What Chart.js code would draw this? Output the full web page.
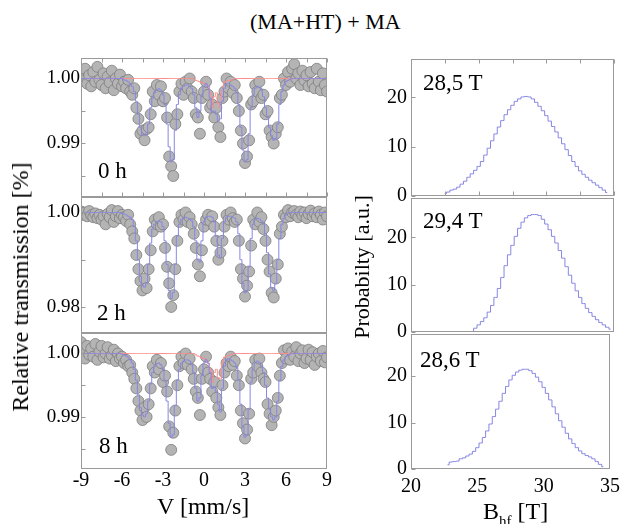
<!DOCTYPE html>
<html><head><meta charset="utf-8">
<script src="https://cdn.jsdelivr.net/npm/chart.js@4.4.1/dist/chart.umd.min.js"></script>
<style>
html,body{margin:0;padding:0;background:#fff;}
#wrap{position:relative;width:626px;height:524px;overflow:hidden;background:#fff;font-family:"Liberation Serif","DejaVu Serif","Noto Serif",Tinos,serif;color:#000;}
canvas{position:absolute;}
.t{position:absolute;white-space:nowrap;line-height:1;}
</style></head><body>
<div id="wrap">
  <div class="t" style="left:250px;top:11px;font-size:22px">(MA+HT) + MA</div>
  <div class="t" style="left:20px;top:287px;font-size:24px;transform:translate(-50%,-50%) rotate(-90deg)">Relative transmission [%]</div>
  <div class="t" style="left:362px;top:267px;font-size:22px;transform:translate(-50%,-50%) rotate(-90deg)">Probabilty [a.u.]</div>
  <div class="t" style="left:157px;top:494px;font-size:24px">V [mm/s]</div>
  <div class="t" style="left:483px;top:499px;font-size:24px">B<span style="font-size:15px;position:relative;top:7px">hf</span> [T]</div>
  <div class="t" style="left:98px;top:159px;font-size:23px">0 h</div>
  <div class="t" style="left:97px;top:301px;font-size:23px">2 h</div>
  <div class="t" style="left:99px;top:434px;font-size:23px">8 h</div>
  <div class="t" style="left:423px;top:71px;font-size:23px">28,5 T</div>
  <div class="t" style="left:423px;top:209px;font-size:23px">29,4 T</div>
  <div class="t" style="left:420px;top:348px;font-size:23px">28,6 T</div>
</div>
<script>
// ---------- DATA ----------
const velocity = [
 -9,-8.85,-8.7,-8.55,-8.4,-8.25,-8.1,-7.95,-7.8,-7.65,
 -7.5,-7.35,-7.2,-7.05,-6.9,-6.75,-6.6,-6.45,-6.3,-6.15,
 -6,-5.85,-5.7,-5.55,-5.4,-5.25,-5.1,-4.95,-4.8,-4.65,
 -4.5,-4.35,-4.2,-4.05,-3.9,-3.75,-3.6,-3.45,-3.3,-3.15,
 -3,-2.85,-2.7,-2.55,-2.4,-2.25,-2.1,-1.95,-1.8,-1.65,
 -1.5,-1.35,-1.2,-1.05,-0.9,-0.75,-0.6,-0.45,-0.3,-0.15,
 0,0.15,0.3,0.45,0.6,0.75,0.9,1.05,1.2,1.35,
 1.5,1.65,1.8,1.95,2.1,2.25,2.4,2.55,2.7,2.85,
 3,3.15,3.3,3.45,3.6,3.75,3.9,4.05,4.2,4.35,
 4.5,4.65,4.8,4.95,5.1,5.25,5.4,5.55,5.7,5.85,
 6,6.15,6.3,6.45,6.6,6.75,6.9,7.05,7.2,7.35,
 7.5,7.65,7.8,7.95,8.1,8.25,8.4,8.55,8.7,8.85,
 9];

// 0 h
const data0h = [
 1.0012,0.9997,1.0015,0.9992,1.0005,0.9988,1.001,0.9995,1.0018,0.9998,
 0.999,1.0008,0.9985,1.0003,0.9994,1.0012,0.9982,1,0.9992,1.0006,
 0.9988,0.9995,0.9985,0.9998,0.998,0.9975,0.9985,0.9955,0.9938,0.9915,
 0.992,0.9905,0.9922,0.9925,0.9945,0.998,0.9965,0.999,0.9975,0.9988,
 0.9965,0.997,0.994,0.988,0.9865,0.985,0.993,0.9945,0.998,0.9992,
 0.9975,0.9995,0.9985,1,0.998,0.997,0.9945,0.994,0.9915,0.997,
 0.998,0.9995,0.9975,0.9955,0.996,0.994,0.9955,0.9925,0.991,0.997,
 0.998,1,0.9985,0.9995,0.9978,0.999,0.997,0.995,0.992,0.99,
 0.987,0.988,0.9905,0.996,0.9965,0.999,0.998,0.9995,0.997,0.9975,
 0.9945,0.995,0.992,0.991,0.99,0.9915,0.9925,0.997,0.9975,1,
 0.999,1.001,0.9995,1.0015,1.0022,1,1.0008,0.999,1.0012,0.9997,
 1.0005,0.9988,1.001,0.9992,0.9985,1.0015,0.9995,0.9982,1.0008,0.999,
 0.998];
const fit0h = [
 1,1,1,1,1,1,1,1,1,1,
 1,1,1,1,1,1,1,1,1,1,
 1,0.9998,0.9997,0.9995,0.9992,0.9988,0.998,0.9965,0.9945,0.9925,
 0.9914,0.9912,0.9915,0.993,0.9955,0.997,0.9978,0.9983,0.9984,0.9982,
 0.9975,0.996,0.993,0.9895,0.9872,0.9875,0.992,0.996,0.9975,0.9985,
 0.9988,0.999,0.999,0.9988,0.9985,0.9975,0.9955,0.994,0.995,0.9975,
 0.9988,0.9992,0.9988,0.997,0.9948,0.995,0.9945,0.9935,0.9938,0.9965,
 0.9985,0.9992,0.9992,0.999,0.9988,0.9985,0.9978,0.996,0.9925,0.989,
 0.9872,0.9875,0.9915,0.9955,0.9975,0.9985,0.9988,0.9986,0.9982,0.9972,
 0.9955,0.994,0.9925,0.9912,0.9905,0.9908,0.993,0.996,0.998,0.999,
 0.9995,0.9997,0.9999,1,1,1,1,1,1,1,
 1,1,1,1,1,1,1,1,1,1,
 1];
const doublet0h = [
 1,1,1,1,1,1,1,1,1,1,
 1,1,1,1,1,1,1,1,1,1,
 1,1,1,1,1,1,1,1,1,1,
 1,1,1,1,1,1,1,1,1,1,
 1,1,1,1,1,1,1,1,1,1,
 1,1,1,1,1,1,0.9997,0.9996,0.9995,0.9994,
 0.9993,0.9992,0.9988,0.9978,0.9955,0.9972,0.9978,0.9962,0.9955,0.9982,
 0.9994,0.9996,0.9997,0.9997,0.9998,1,1,1,1,1,
 1,1,1,1,1,1,1,1,1,1,
 1,1,1,1,1,1,1,1,1,1,
 1,1,1,1,1,1,1,1,1,1,
 1,1,1,1,1,1,1,1,1,1,
 1];

// 2 h
const data2h = [
 1.0002,0.9995,1,0.9992,1.0003,0.9994,0.999,0.9998,0.9988,0.9995,
 0.9985,0.9992,0.9975,0.9997,0.999,1.0005,0.998,0.9992,1.0003,0.9988,
 0.9995,0.999,0.9982,0.9995,0.9975,0.996,0.9945,0.991,0.988,0.9855,
 0.9835,0.986,0.984,0.988,0.992,0.996,0.9985,0.9975,0.999,0.997,
 0.9975,0.9925,0.9885,0.985,0.98,0.9825,0.988,0.994,0.998,0.9995,
 0.9985,1,0.998,0.999,0.9975,0.9955,0.9925,0.989,0.9865,0.992,
 0.997,0.9985,0.9995,0.9982,0.9992,0.997,0.994,0.99,0.9915,0.994,
 0.997,0.9995,0.9985,1,0.9988,0.998,0.9985,0.994,0.988,0.986,
 0.9822,0.9845,0.9875,0.993,0.9985,0.9975,1,0.998,0.999,0.9965,
 0.994,0.99,0.9875,0.983,0.982,0.986,0.989,0.9955,0.997,0.9995,
 0.999,1.0005,0.9992,1,1.0003,0.9995,0.999,1.0002,0.9994,1,
 0.9988,0.9997,1.0004,0.9992,0.9998,0.999,1.0002,0.9995,0.9985,1,
 0.9992];
const fit2h = [
 1,1,1,1,1,1,1,1,1,1,
 1,1,1,1,1,1,1,1,1,1,
 0.9998,0.9997,0.9995,0.9992,0.999,0.9985,0.997,0.994,0.99,0.9865,
 0.9845,0.9842,0.985,0.989,0.9935,0.9965,0.9975,0.998,0.9982,0.998,
 0.997,0.994,0.989,0.9835,0.9818,0.983,0.989,0.995,0.9975,0.9985,
 0.9988,0.999,0.9988,0.9986,0.9982,0.997,0.994,0.99,0.9895,0.994,
 0.998,0.999,0.9992,0.9992,0.999,0.998,0.995,0.991,0.9905,0.9945,
 0.998,0.999,0.9992,0.9992,0.999,0.9988,0.998,0.9955,0.99,0.985,
 0.983,0.9835,0.9885,0.9945,0.9975,0.9985,0.9988,0.9986,0.9982,0.9975,
 0.9955,0.9915,0.987,0.984,0.9835,0.985,0.99,0.9945,0.9975,0.9988,
 0.9995,0.9998,1,1,1,1,1,1,1,1,
 1,1,1,1,1,1,1,1,1,1,
 1];

// 8 h
const data8h = [
 1.0018,1.0005,0.9992,1.0012,0.9998,1.0008,0.9995,1.0015,0.999,1.0003,
 1.0012,0.9994,1,1.001,0.9992,0.9997,1.0006,0.9988,1,0.9992,
 0.9995,0.9985,0.999,0.998,0.9982,0.997,0.996,0.9945,0.9925,0.991,
 0.9895,0.9915,0.99,0.992,0.9945,0.998,0.997,0.999,0.9975,0.9985,
 0.9955,0.9965,0.994,0.9885,0.9848,0.9875,0.991,0.995,0.998,0.9995,
 0.9985,1,0.9982,0.9992,0.9975,0.996,0.994,0.993,0.9903,0.996,
 0.9975,0.9995,0.997,0.996,0.994,0.9955,0.993,0.9915,0.9903,0.995,
 0.997,0.9985,0.998,0.9995,0.9982,0.9988,0.9965,0.995,0.991,0.989,
 0.9866,0.988,0.9905,0.996,0.997,0.999,0.998,0.9992,0.997,0.996,
 0.9955,0.992,0.9905,0.9887,0.99,0.991,0.993,0.9965,0.9985,1.0005,
 0.9992,1.0008,0.999,1.0003,0.9995,1.001,0.9988,1,1.0005,0.9985,
 0.9992,1.0006,0.999,1.0002,0.9982,0.9995,1,0.9988,1.0004,0.9986,
 0.9994];
const fit8h = [
 1,1,1,1,1,1,1,1,1,1,
 1,1,1,1,1,1,1,1,1,1,
 0.9999,0.9998,0.9996,0.9994,0.999,0.9985,0.9975,0.9958,0.9935,0.9915,
 0.9903,0.99,0.9905,0.9925,0.9952,0.997,0.998,0.9984,0.9985,0.9982,
 0.9975,0.9958,0.9925,0.989,0.9868,0.9872,0.9918,0.9958,0.9975,0.9985,
 0.9988,0.999,0.999,0.9988,0.9982,0.997,0.9945,0.9925,0.993,0.9965,
 0.9985,0.999,0.9985,0.997,0.9945,0.9948,0.994,0.992,0.9908,0.9945,
 0.998,0.999,0.9992,0.999,0.9988,0.9985,0.9978,0.9958,0.992,0.9885,
 0.9868,0.9872,0.9912,0.9955,0.9975,0.9985,0.9988,0.9986,0.998,0.997,
 0.995,0.993,0.9912,0.99,0.9895,0.99,0.9925,0.9958,0.998,0.999,
 0.9995,0.9997,0.9999,1,1,1,1,1,1,1,
 1,1,1,1,1,1,1,1,1,1,
 1];
const doublet8h = [
 1,1,1,1,1,1,1,1,1,1,
 1,1,1,1,1,1,1,1,1,1,
 1,1,1,1,1,1,1,1,1,1,
 1,1,1,1,1,1,1,1,1,1,
 1,1,1,1,1,1,1,1,1,1,
 1,1,1,1,1,1,0.9998,0.9996,0.9995,0.9993,
 0.9992,0.999,0.9985,0.9975,0.9955,0.997,0.9975,0.9962,0.996,0.9985,
 0.9994,0.9996,0.9997,0.9998,0.9999,1,1,1,1,1,
 1,1,1,1,1,1,1,1,1,1,
 1,1,1,1,1,1,1,1,1,1,
 1,1,1,1,1,1,1,1,1,1,
 1,1,1,1,1,1,1,1,1,1,
 1];

// hyperfine field distributions
const bField = [
 22.5,22.75,23,23.25,23.5,23.75,24,24.25,24.5,24.75,
 25,25.25,25.5,25.75,26,26.25,26.5,26.75,27,27.25,
 27.5,27.75,28,28.25,28.5,28.75,29,29.25,29.5,29.75,
 30,30.25,30.5,30.75,31,31.25,31.5,31.75,32,32.25,
 32.5,32.75,33,33.25,33.5,33.75,34,34.25,34.5,34.75];
const prob0h = [
 0.5,0.8,1.2,1.4,1.8,2.4,3.0,3.8,4.5,5.2,
 6.0,7.0,8.3,9.7,11.2,12.6,14.0,15.3,16.5,17.5,
 18.4,19.2,19.7,20.1,20.2,20.1,19.7,19.0,18.2,17.3,
 16.3,15.2,14.1,13.0,11.8,10.6,9.4,8.2,7.0,6.0,
 5.1,4.4,3.8,3.2,2.7,2.2,1.7,1.2,0.7,null];
const prob2h = [
 null,null,null,null,null,null,null,null,0.1,0.8,
 1.5,2.2,3.0,4.2,5.6,7.3,9.2,11.5,14.0,16.3,
 18.3,20.2,21.9,23.2,24.1,24.6,24.8,24.8,24.6,23.8,
 22.8,21.6,20.2,18.8,17.2,15.6,13.8,12.0,10.3,8.7,
 7.3,6.0,5.0,4.1,3.3,2.6,2.0,1.5,1.0,0.6];
const prob8h = [
 null,0.9,1.5,1.6,1.7,2.2,2.4,2.8,3.2,3.8,
 4.6,5.6,6.8,8.2,9.7,11.3,12.9,14.6,16.3,17.8,
 19.2,20.2,20.9,21.3,21.5,21.5,21.2,20.6,19.8,18.8,
 17.6,16.3,14.9,13.4,11.9,10.4,9.0,7.7,6.5,5.5,
 4.6,3.9,3.3,2.9,2.6,2.2,1.6,1.0,0.5,null];

// tick values
const vTicks = [-9,-7.5,-6,-4.5,-3,-1.5,0,1.5,3,4.5,6,7.5,9];
const vTickLabels = [-9,-6,-3,0,3,6,9];
const bTicks = [20,22.5,25,27.5,30,32.5,35];
const bTickLabels = [20,25,30,35];
const trTicksA = [0.985,0.99,0.995,1.0];
const trLabelsA = [0.99,1.0];
const trTicksB = [0.98,0.99,1.0];
const trLabelsB = [0.98,1.0];
const probTicks = [0,10,20];

// ---------- DRAWING ----------
const FONT = '"Liberation Serif","DejaVu Serif","Noto Serif",Tinos,serif';
const PAD = 15;
const BLUE = '#8686e4';
const RED = '#ff8a8a';
const wrap = document.getElementById('wrap');
const pts = (xs, ys) => xs.map((x,i)=>({x:x, y:ys[i]})).filter(p=>p.y!==null);
const has = (arr, v) => arr.some(a => Math.abs(a - v) < 1e-9);

const framePlugin = {
  id:'frame',
  afterDatasetsDraw(chart, args, o){
    const {ctx, chartArea:a} = chart;
    const L=Math.round(a.left)+0.5, R=Math.round(a.right)-0.5, T=Math.round(a.top)+0.5, B=Math.round(a.bottom)-0.5;
    ctx.save();
    ctx.strokeStyle='#9a9a9a'; ctx.lineWidth=1;
    ctx.strokeRect(L, T, R-L, B-T);
    const xs = chart.scales.x, ys = chart.scales.y;
    ctx.beginPath();
    xs.ticks.forEach(t=>{
      const px = Math.round(xs.getPixelForValue(t.value))+0.5;
      if (o.xBottom){ ctx.moveTo(px,B); ctx.lineTo(px,B-4); }
      if (o.xTop){ ctx.moveTo(px,T); ctx.lineTo(px,T+4); }
    });
    ys.ticks.forEach(t=>{
      const py = Math.round(ys.getPixelForValue(t.value))+0.5;
      ctx.moveTo(L,py); ctx.lineTo(L+4,py);
    });
    ctx.stroke();
    ctx.restore();
  }
};

function panel(c){
  const cv = document.createElement('canvas');
  cv.width = c.cw; cv.height = c.ch;
  cv.style.left = c.cx+'px'; cv.style.top = c.cy+'px';
  wrap.insertBefore(cv, wrap.firstChild);
  return new Chart(cv, {
    type:'line',
    data:{datasets:c.datasets},
    options:{
      responsive:false, animation:false, devicePixelRatio:1,
      layout:{padding:{left:0,right:c.padR,top:PAD,bottom:PAD}},
      plugins:{legend:{display:false},tooltip:{enabled:false},frame:c.frame},
      elements:{line:{tension:0}},
      scales:{
        x:{type:'linear',min:c.xmin,max:c.xmax,
          grid:{display:false,drawTicks:false},border:{display:false},
          afterBuildTicks:s=>{s.ticks=c.xTicks.map(v=>({value:v}));},
          afterFit:s=>{s.height=c.xh;},
          ticks:{display:c.xShow,autoSkip:false,maxRotation:0,minRotation:0,padding:c.xpad,color:'#000',
            font:{family:FONT,size:20},callback:v=>has(c.xLabels,v)?String(v):''}},
        y:{type:'linear',min:c.ymin,max:c.ymax,
          grid:{display:false,drawTicks:false},border:{display:false},
          afterBuildTicks:s=>{s.ticks=c.yTicks.map(v=>({value:v}));},
          afterFit:s=>{s.width=c.yw;},
          ticks:{autoSkip:false,padding:c.ypad,color:'#000',font:{family:FONT,size:c.yfs},
            callback:v=>has(c.yLabels,v)?c.yfmt(v):''}}
      }
    },
    plugins:[framePlugin]
  });
}

// Chart.js draws the first dataset top-most: total fit, then doublet, then measured points underneath
function mossSets(data, fit, doublet){
  const s = [{data:pts(velocity,fit),borderColor:BLUE,borderWidth:1,pointRadius:0,stepped:'middle',fill:false}];
  if (doublet) s.push({data:pts(velocity,doublet),borderColor:RED,borderWidth:1,pointRadius:0,stepped:'middle',fill:false});
  s.push({data:pts(velocity,data),showLine:false,pointRadius:5.5,pointBackgroundColor:'#b4b4b4',pointBorderColor:'#7c7c7c',pointBorderWidth:0.8});
  return s;
}
function distSets(p){
  return [{data:pts(bField,p),borderColor:BLUE,borderWidth:1,pointRadius:0,stepped:'middle',fill:false,spanGaps:false}];
}

const leftBase = {cx:0,cw:345,yw:81,padR:18,xmin:-9,xmax:9,xTicks:vTicks,xLabels:vTickLabels,xpad:0,ypad:1,yfs:19,yfmt:v=>v.toFixed(2)};
const rightBase = {cx:340,cw:286,yw:71,padR:12,xmin:20,xmax:35,xTicks:bTicks,xLabels:bTickLabels,xpad:6,ypad:4,yfs:20,yfmt:v=>String(v)};

panel(Object.assign({},leftBase,{cy:58-PAD,ch:PAD+139+PAD,xh:0,xShow:false,ymin:0.981769,ymax:1.003154,yTicks:trTicksA,yLabels:trLabelsA,
  frame:{xBottom:true,xTop:true},datasets:mossSets(data0h,fit0h,doublet0h)}));
panel(Object.assign({},leftBase,{cy:197-PAD,ch:PAD+136+PAD,xh:0,xShow:false,ymin:0.974482,ymax:1.003277,yTicks:trTicksB,yLabels:trLabelsB,
  frame:{xBottom:false,xTop:false},datasets:mossSets(data2h,fit2h,null)}));
panel(Object.assign({},leftBase,{cy:333-PAD,ch:PAD+136+30+PAD,xh:30,xShow:true,ymin:0.981782,ymax:1.003233,yTicks:trTicksA,yLabels:trLabelsA,
  frame:{xBottom:false,xTop:false},datasets:mossSets(data8h,fit8h,doublet8h)}));

panel(Object.assign({},rightBase,{cy:58-PAD,ch:PAD+139+PAD,xh:0,xShow:false,ymin:0,ymax:27.8,yTicks:probTicks,yLabels:probTicks,
  frame:{xBottom:true,xTop:true},datasets:distSets(prob0h)}));
panel(Object.assign({},rightBase,{cy:197-PAD,ch:PAD+136+PAD,xh:0,xShow:false,ymin:0,ymax:28.3,yTicks:probTicks,yLabels:probTicks,
  frame:{xBottom:false,xTop:false},datasets:distSets(prob2h)}));
panel(Object.assign({},rightBase,{cy:333-PAD,ch:PAD+136+30+PAD,xh:30,xShow:true,ymin:0,ymax:29.1,yTicks:probTicks,yLabels:probTicks,
  frame:{xBottom:false,xTop:false},datasets:distSets(prob8h)}));
</script>
</body></html>
